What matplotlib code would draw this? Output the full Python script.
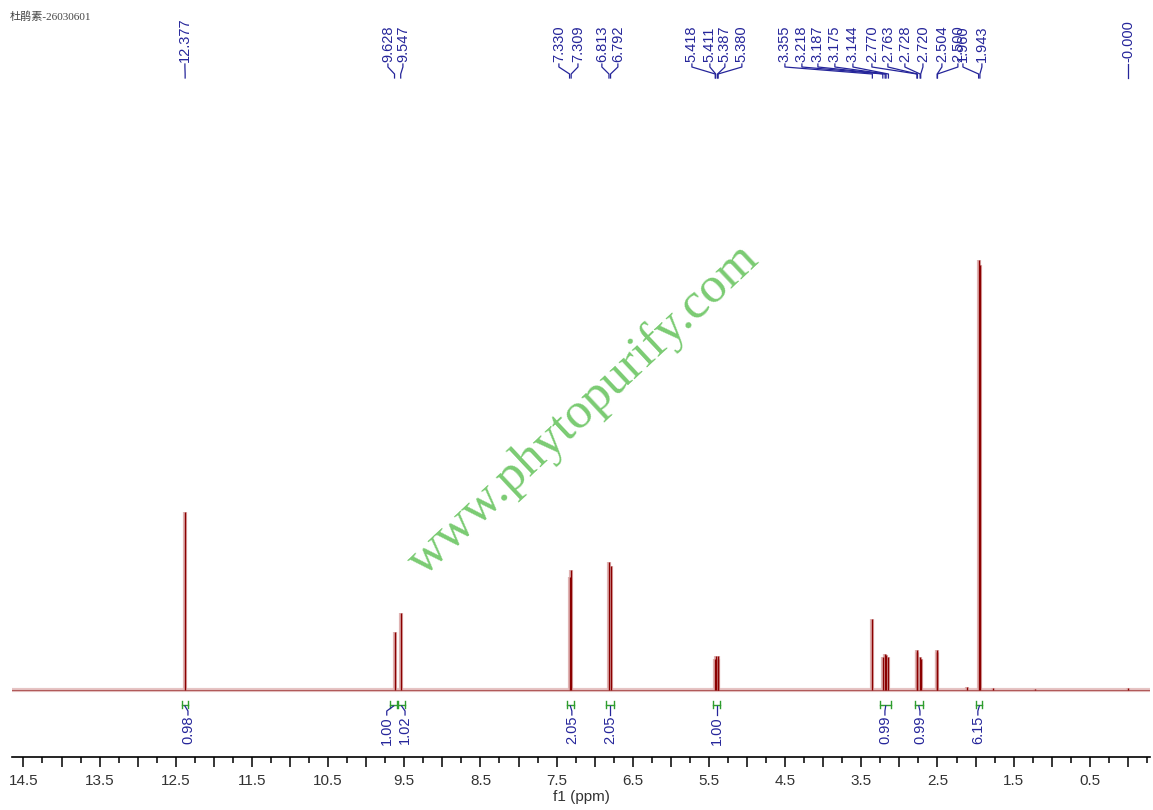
import matplotlib
matplotlib.use("Agg")
import matplotlib.pyplot as plt
import matplotlib.transforms as mtransforms
from matplotlib.ticker import MultipleLocator, FuncFormatter

# ---- data ----
title = "杜鹃素-26030601"

peak_ppm = [12.377, 9.628, 9.547, 7.330, 7.309, 6.813, 6.792,
            5.418, 5.411, 5.387, 5.380, 3.355, 3.218, 3.187, 3.175, 3.144,
            2.770, 2.763, 2.728, 2.720, 2.504, 2.500, 1.960, 1.943,
            2.110, 1.770, 1.220, 0.000]
peak_height = [178, 58, 77, 113, 120, 128, 124,
               31, 34, 34, 31, 71, 33, 36, 35, 33,
               40, 38, 33, 31, 38, 40, 430, 425,
               3, 2, 1.5, 2]

# labelled shifts and where their text sits on the ppm scale
label_ppm = [12.377, 9.628, 9.547, 7.330, 7.309, 6.813, 6.792,
             5.418, 5.411, 5.387, 5.380, 3.355, 3.218, 3.187, 3.175, 3.144,
             2.770, 2.763, 2.728, 2.720, 2.504, 2.500, 1.960, 1.943, 0.000]
label_text = ["12.377", "9.628", "9.547", "7.330", "7.309", "6.813", "6.792",
              "5.418", "5.411", "5.387", "5.380", "3.355", "3.218", "3.187",
              "3.175", "3.144", "2.770", "2.763", "2.728", "2.720", "2.504",
              "2.500", "1.960", "1.943", "-0.000"]
label_pos = [12.38, 9.715, 9.518, 7.470, 7.220, 6.906, 6.696,
             5.724, 5.488, 5.291, 5.068, 4.503, 4.280, 4.070, 3.847, 3.610,
             3.361, 3.151, 2.928, 2.691, 2.442, 2.232, 2.166, 1.917, 0.0]

# integrals: range start/end, value, label position
int_start = [12.42, 9.69, 9.58, 7.37, 6.85, 5.45, 3.25, 2.80, 1.99]
int_end = [12.34, 9.59, 9.49, 7.27, 6.75, 5.35, 3.11, 2.69, 1.91]
int_value = ["0.98", "1.00", "1.02", "2.05", "2.05", "1.00", "0.99", "0.99", "6.15"]
int_pos = [12.34, 9.73, 9.49, 7.30, 6.80, 5.40, 3.19, 2.73, 1.97]

W, H = 1153, 810
BLUE = "#25259a"
GREEN = "#2e9e2e"
RED = "#8b0000"


def fy(px):
    # pixel row from the top -> figure fraction
    return 1 - px / H


def half_ppm_label(v, _pos):
    # only x.5 positions carry a number
    return f"{v:.1f}" if abs((v - 0.5) % 1.0) < 1e-6 else ""


fig = plt.figure(figsize=(W / 100, H / 100), dpi=100)
ax = fig.add_axes([12 / W, fy(757), (1150 - 12) / W, (757 - 90) / H])
ax.set_xlim(14.65, -0.29)
ax.set_ylim(-67, 600)

# spectrum: baseline + sticks
ax.axhline(0, color="#e6c4c4", lw=3, zorder=1)
ax.axhline(0, color="#b05a5a", lw=0.8, zorder=2)
ax.vlines(peak_ppm, 0, peak_height, color="#e0b4b4", lw=3.0, zorder=2)
ax.vlines(peak_ppm, 0, peak_height, color=RED, lw=1.0, zorder=3)

for s in ["top", "left", "right"]:
    ax.spines[s].set_visible(False)
ax.spines["bottom"].set_linewidth(1.2)
ax.set_yticks([])
ax.xaxis.set_major_locator(MultipleLocator(0.5))
ax.xaxis.set_major_formatter(FuncFormatter(half_ppm_label))
ax.xaxis.set_minor_locator(MultipleLocator(0.25))
ax.tick_params(axis="x", which="major", direction="out", length=7, width=1.1,
               labelsize=11, labelcolor="#333333", pad=5)
ax.tick_params(axis="x", which="minor", direction="out", length=4, width=1.1)
for lab in ax.get_xticklabels():
    lab.set_fontfamily("Liberation Sans")
ax.set_xlabel("f1 (ppm)", fontsize=11, color="#333333", family="Liberation Sans", labelpad=2)

blend = mtransforms.blended_transform_factory(ax.transData, fig.transFigure)

# peak labels with connector lines
for ppm, txt, pos in zip(label_ppm, label_text, label_pos):
    ax.text(pos, fy(62), txt, transform=blend, rotation=90, ha="center", va="bottom",
            fontsize=10.5, color=BLUE, family="Liberation Sans", clip_on=False)
    xs = [pos, pos, ppm, ppm]
    ys = [fy(64), fy(67), fy(74), fy(78)]
    ax.plot(xs, ys, transform=blend, color=BLUE, lw=0.9, clip_on=False)

# integrals
for a, b, val, pos in zip(int_start, int_end, int_value, int_pos):
    mid = (a + b) / 2
    ax.plot([a, a], [fy(701), fy(708)], transform=blend, color=GREEN, lw=1, clip_on=False)
    ax.plot([b, b], [fy(701), fy(708)], transform=blend, color=GREEN, lw=1, clip_on=False)
    ax.plot([a, b], [fy(704.5), fy(704.5)], transform=blend, color=GREEN, lw=1, clip_on=False)
    ax.plot([mid, pos, pos], [fy(706), fy(711), fy(715)], transform=blend, color=BLUE,
            lw=0.9, clip_on=False)
    ax.text(pos, fy(716), val, transform=blend, rotation=90, ha="center", va="top",
            fontsize=10.5, color=BLUE, family="Liberation Sans", clip_on=False)

# title and watermark
fig.text(10 / W, fy(17), title, fontsize=8, color="#444444", va="center", ha="left",
         family=["Liberation Serif", "Noto Sans CJK SC"])
fig.text(584 / W, fy(410), "www.phytopurify.com", fontsize=37, color="#7acb72",
         rotation=43.1, rotation_mode="anchor", ha="center", va="center",
         family="Liberation Serif", zorder=10)

fig.savefig("out.png", dpi=100)
